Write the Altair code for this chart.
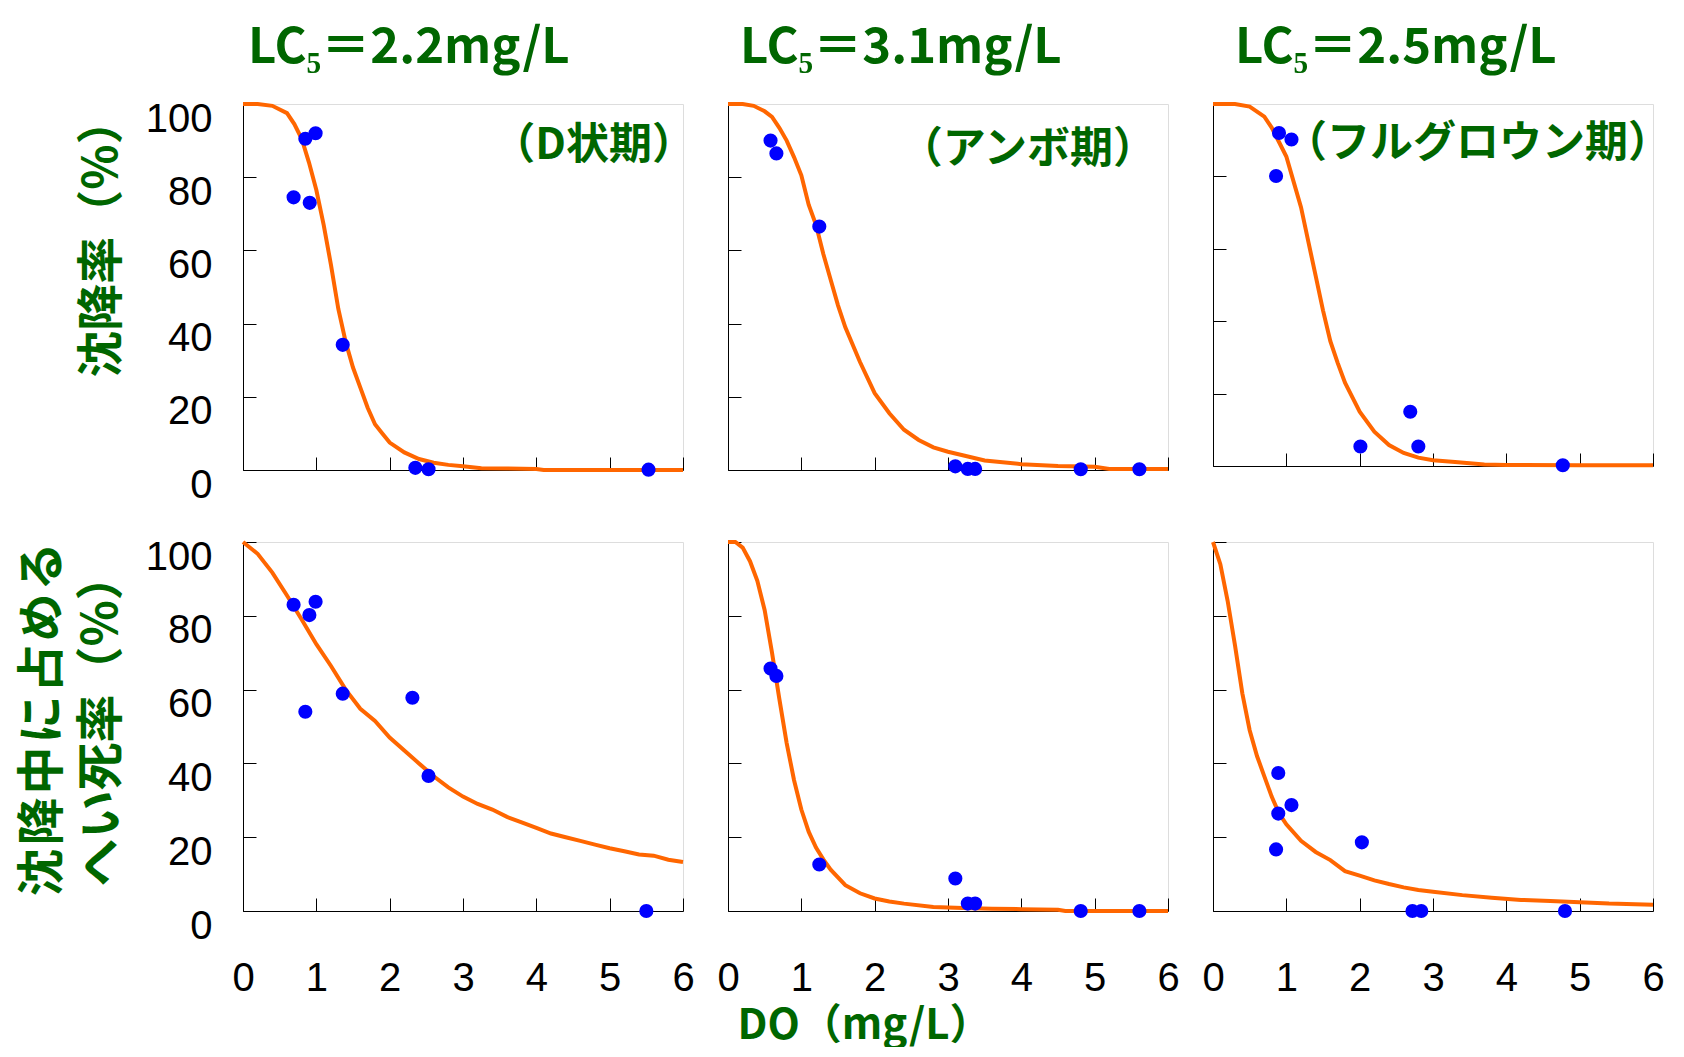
import altair as alt
import pandas as pd

GREEN = "#006600"
ORANGE = "#ff6600"
BLUE = "#0000ff"
JP = "Noto Sans CJK JP"
NUM = "Liberation Sans"

# ---------------- axis ticks / texts ----------------
x_ticks = [0, 1, 2, 3, 4, 5, 6]
y_ticks = [0, 20, 40, 60, 80, 100]

col_titles = ["LC₅＝2.2mg/L", "LC₅＝3.1mg/L", "LC₅＝2.5mg/L"]
stage_labels = ["（D状期）", "（アンボ期）", "（フルグロウン期）"]
x_title = "DO（mg/L）"
y_title_top = "沈降率（%）"
y_title_bottom = ["沈\u200a降\u200a中\u200aに\u200a占\u200aめ\u200aる", "へい死率（%）"]

# ---------------- top row: 沈降率 (%) ----------------
top_d_obs_x = [0.69, 0.85, 0.99, 0.91, 1.36, 2.35, 2.53, 5.53]
top_d_obs_y = [74.5, 90.5, 92.0, 73.0, 34.2, 0.6, 0.2, 0.1]
top_d_fit_x = [0, 0.2, 0.4, 0.6, 0.7, 0.8, 0.9, 1.0, 1.1, 1.2, 1.3, 1.4, 1.5, 1.6, 1.7,
               1.8, 1.9, 2.0, 2.2, 2.4, 2.6, 2.8, 3.0, 3.25, 3.6, 4.0, 4.1, 5.0, 6.0]
top_d_fit_y = [100, 100, 99.5, 97.5, 94.5, 90.5, 84, 76.5, 67, 56, 44, 35, 28, 22.5, 17,
               12.5, 10, 7.5, 4.8, 3.0, 2.0, 1.4, 1.0, 0.5, 0.4, 0.3, 0, 0, 0]

top_a_obs_x = [0.58, 0.66, 1.245, 3.10, 3.27, 3.37, 4.81, 5.61]
top_a_obs_y = [90.0, 86.5, 66.5, 1.0, 0.3, 0.3, 0.2, 0.2]
top_a_fit_x = [0, 0.2, 0.35, 0.5, 0.6, 0.7, 0.8, 0.9, 1.0, 1.1, 1.2, 1.3, 1.4, 1.5, 1.6,
               1.8, 2.0, 2.2, 2.4, 2.6, 2.8, 3.0, 3.5, 4.0, 4.5, 5.0, 5.2, 5.5, 6.0]
top_a_fit_y = [100, 100, 99.5, 98, 96.5, 93.5, 90, 85.5, 80.5, 72.5, 67, 59, 52, 45, 39,
               29.5, 21, 15.5, 11, 8.2, 6.2, 5, 2.6, 1.6, 1.1, 0.9, 0.3, 0.3, 0.3]

top_f_obs_x = [0.90, 1.07, 0.86, 2.01, 2.69, 2.80, 4.77]
top_f_obs_y = [92.0, 90.2, 80.1, 5.4, 15.0, 5.4, 0.2]
top_f_fit_x = [0, 0.3, 0.5, 0.7, 0.8, 0.9, 1.0, 1.1, 1.2, 1.3, 1.4, 1.5, 1.6, 1.7, 1.8,
               2.0, 2.2, 2.4, 2.6, 2.8, 3.0, 3.3, 3.7, 4.0, 5.0, 6.0]
top_f_fit_y = [100, 100, 99.3, 96.5, 93.5, 89.5, 85.5, 78.5, 71.5, 62, 52.5, 43, 34.5, 28.5, 23,
               15, 9.5, 5.8, 3.6, 2.3, 1.6, 1.1, 0.4, 0.3, 0.2, 0.2]

# ---------------- bottom row: 沈降中に占めるへい死率 (%) ----------------
bot_d_obs_x = [0.69, 0.99, 0.905, 0.85, 1.36, 2.31, 2.53, 5.50]
bot_d_obs_y = [83.0, 83.8, 80.2, 54.0, 58.9, 57.8, 36.6, 0.0]
bot_d_fit_x = [0, 0.2, 0.4, 0.6, 0.8, 1.0, 1.2, 1.4, 1.6, 1.8, 2.0, 2.2, 2.4, 2.6, 2.8, 3.0,
               3.2, 3.4, 3.6, 3.8, 4.0, 4.2, 4.4, 4.6, 4.8, 5.0, 5.2, 5.4, 5.6, 5.8, 6.0]
bot_d_fit_y = [100, 96.8, 91.7, 85.5, 79, 72.3, 66.4, 60, 54.8, 51.5, 47, 43.5, 40, 36.5, 33.5, 31,
               29, 27.5, 25.5, 24, 22.5, 21, 20, 19, 18, 17, 16.2, 15.3, 15, 13.9, 13.3]

bot_a_obs_x = [0.58, 0.66, 1.245, 3.10, 3.27, 3.37, 4.81, 5.61]
bot_a_obs_y = [65.7, 63.7, 12.6, 8.8, 2.0, 2.0, 0.0, 0.0]
bot_a_fit_x = [0, 0.1, 0.2, 0.3, 0.4, 0.5, 0.6, 0.7, 0.8, 0.9, 1.0, 1.1, 1.2, 1.3, 1.4,
               1.6, 1.8, 2.0, 2.2, 2.4, 2.8, 3.2, 3.6, 4.0, 4.5, 4.6, 5.0, 6.0]
bot_a_fit_y = [100, 100, 98.5, 94.8, 89.5, 81.5, 70, 57.5, 45.5, 35.5, 27.5, 21.5, 17.2, 14, 11.2,
               7, 4.8, 3.4, 2.6, 2.0, 1.1, 0.8, 0.6, 0.5, 0.35, 0, 0, 0]

bot_f_obs_x = [0.89, 1.07, 0.89, 0.86, 2.03, 2.72, 2.84, 4.80]
bot_f_obs_y = [37.4, 28.7, 26.4, 16.7, 18.6, 0.0, 0.0, 0.0]
bot_f_fit_x = [0, 0.1, 0.2, 0.3, 0.4, 0.5, 0.6, 0.7, 0.8, 0.9, 1.0, 1.2, 1.4, 1.6, 1.8,
               2.0, 2.2, 2.4, 2.6, 2.8, 3.0, 3.4, 3.8, 4.2, 4.6, 5.0, 5.4, 6.0]
bot_f_fit_y = [100, 94, 84, 72, 59, 49, 42, 36.5, 31, 26.5, 23.5, 19, 16, 13.8, 10.8,
               9.6, 8.3, 7.3, 6.4, 5.7, 5.2, 4.3, 3.6, 3.0, 2.7, 2.4, 2.0, 1.7]

# note positions (pixels inside each top panel) and title offsets
note_pos = [(452, 42), (428, 46), (458, 40)]
title_dx = [5, 12, 22]


def panel(fit_x, fit_y, obs_x, obs_y, row, col, height):
    fit = pd.DataFrame({"DO": fit_x, "rate": fit_y})
    obs = pd.DataFrame({"DO": obs_x, "rate": obs_y})

    xa = dict(values=x_ticks, grid=False, tickSize={"expr": "-13"}, tickColor="black",
              domainColor="black", labelFlush=False, labelOverlap=False, format="d",
              labels=(row == 1), labelFont=NUM, labelFontSize=40, labelColor="black",
              labelPadding=60, title=None)
    if row == 1 and col == 1:
        xa.update(title=x_title, titleX=136, titleY=114, titleAlign="center",
                  titleBaseline="middle", titleFont=JP, titleFontSize=42,
                  titleFontWeight="bold", titleColor=GREEN)
    ya = dict(values=y_ticks, grid=False, tickSize={"expr": "-13"}, tickColor="black",
              domainColor="black", labelFlush=False, labelOverlap=False, format="d",
              labels=(col == 0), labelFont=NUM, labelFontSize=40, labelColor="black",
              labelPadding=44, labelOffset=15, title=None)
    if col == 0:
        if row == 0:
            ya.update(title=y_title_top, titleX=-141, titleY=133, titleFontSize=47)
        else:
            ya.update(title=y_title_bottom, titleX=-200, titleY=177, titleLineHeight=59,
                      titleFontSize=48)
        ya.update(titleAngle=270, titleAlign="center", titleBaseline="middle",
                  titleFont=JP, titleFontWeight="bold", titleColor=GREEN)

    xs = alt.X("DO:Q", scale=alt.Scale(domain=[0, 6], nice=False, zero=False), axis=alt.Axis(**xa))
    ys = alt.Y("rate:Q", scale=alt.Scale(domain=[0, 100], nice=False), axis=alt.Axis(**ya))

    line = alt.Chart(fit).mark_line(color=ORANGE, strokeWidth=4).encode(x=xs, y=ys)
    pts = alt.Chart(obs).mark_circle(color=BLUE, size=200, opacity=1).encode(x="DO:Q", y="rate:Q")
    layers = [line, pts]
    props = dict(width=440, height=height)
    if row == 0:
        nx, ny = note_pos[col]
        note = alt.Chart(pd.DataFrame({"t": [stage_labels[col]]})).mark_text(
            align="right", baseline="middle", font=JP, fontSize=43, fontWeight="bold",
            color=GREEN).encode(x=alt.value(nx), y=alt.value(ny), text="t:N")
        layers.append(note)
        props["title"] = alt.TitleParams(
            text=col_titles[col], anchor="start", frame="group", dx=title_dx[col],
            font=JP, fontSize=49, fontWeight="bold", color=GREEN, offset=0, dy=16,
            baseline="alphabetic")
    return alt.layer(*layers).properties(**props)


panels = [
    panel(top_d_fit_x, top_d_fit_y, top_d_obs_x, top_d_obs_y, 0, 0, 366),
    panel(top_a_fit_x, top_a_fit_y, top_a_obs_x, top_a_obs_y, 0, 1, 366),
    panel(top_f_fit_x, top_f_fit_y, top_f_obs_x, top_f_obs_y, 0, 2, 362),
    panel(bot_d_fit_x, bot_d_fit_y, bot_d_obs_x, bot_d_obs_y, 1, 0, 369),
    panel(bot_a_fit_x, bot_a_fit_y, bot_a_obs_x, bot_a_obs_y, 1, 1, 369),
    panel(bot_f_fit_x, bot_f_fit_y, bot_f_obs_x, bot_f_obs_y, 1, 2, 369),
]

chart = alt.concat(*panels, columns=3, spacing={"row": 72, "column": 45},
                   bounds="flush").properties(
    padding={"left": 10, "top": 15, "right": 0, "bottom": 0}
).configure_view(stroke="#cccccc", strokeWidth=1).configure(background="white")

chart.save("out.html", embed_options={"renderer": "svg", "actions": False})
